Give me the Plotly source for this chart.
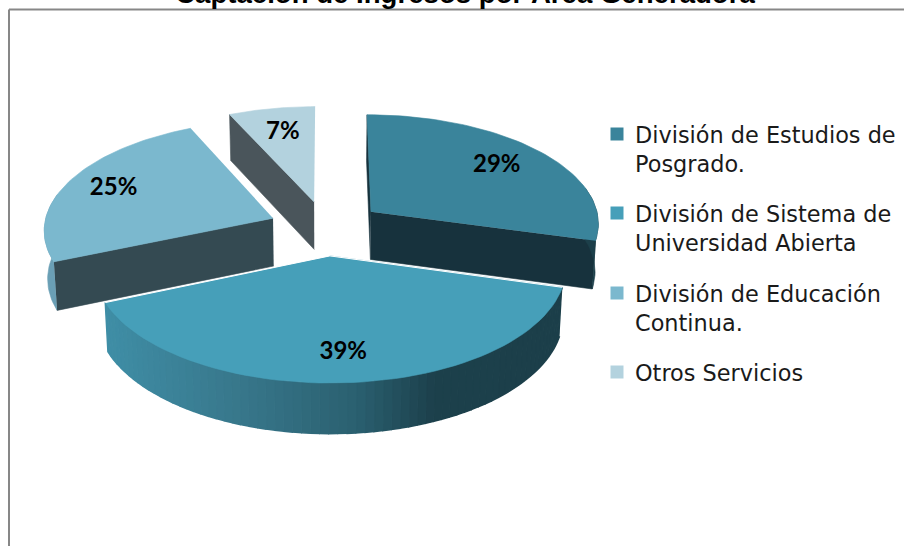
import numpy as np
import plotly.graph_objects as go

# data
labels = ["División de Estudios de<br>Posgrado.", "División de Sistema de<br>Universidad Abierta",
          "División de Educación<br>Continua.", "Otros Servicios"]
values = [29.3, 39.3, 24.6, 6.8]
colors = ["#3a849b", "#469fb9", "#7bb8ce", "#b3d2de"]
radial_colors = ["#17323d", "#1c3f4a", "#344a52", "#4a555b"]
rim_colors = ["#1c3f4a", None, "#6a9fb5", "#4a555b"]
title = "Captación de Ingresos por Área Generadora"

# gradient along the rim of the big slice, left to right
grad_pos = [0.0, 0.28, 0.55, 0.72, 1.0]
grad_col = ["#3f8ea6", "#38788c", "#2a6070", "#1c404b", "#1c3f4a"]

# view settings
CX, CY = 326, 228
D = 2500
R = 240
SX = 0.955
K = 0.455
EXPLODE = 60
DEPTH = 48
LABEL_R = [0.74, 0.78, 0.78, 0.72]

# legend layout
LEG_X = 617
LEG_TEXT_X = 634
LEG_Y = [134, 213, 293, 372]


def project(wx, wy, z=0.0):
    s = D / (D + wy)
    px = CX + wx * SX * s
    py = CY - K * D * wy / (D + wy) + z * DEPTH * (1 + (s - 1) * 0.4)
    px = CX + (px - CX) * (1 - 0.012 * z)
    return px, py


def rim(a0, a1, n=60):
    return np.radians(np.linspace(a0, a1, n))


def poly(x, y, color, lw=0.6):
    return go.Scatter(x=list(x), y=list(y), mode="lines", fill="toself", fillcolor=color,
                      line=dict(color=color, width=lw), hoverinfo="skip", showlegend=False)


def hex_mix(a, b, t):
    ca = [int(a[i:i + 2], 16) for i in (1, 3, 5)]
    cb = [int(b[i:i + 2], 16) for i in (1, 3, 5)]
    return "#%02x%02x%02x" % tuple(round(p + (q - p) * t) for p, q in zip(ca, cb))


def grad_color(t):
    for i in range(len(grad_pos) - 1):
        if t <= grad_pos[i + 1]:
            return hex_mix(grad_col[i], grad_col[i + 1], (t - grad_pos[i]) / (grad_pos[i + 1] - grad_pos[i]))
    return grad_col[-1]


angles = np.cumsum([0] + values) * 3.6
fig = go.Figure()

# which radial faces can be seen, per slice
visible_edges = {0: [0, 1], 1: [], 2: [0], 3: [0]}

# far slices first, the big front slice last
for i in [0, 3, 2, 1]:
    a0, a1 = angles[i], angles[i + 1]
    mid = np.radians((a0 + a1) / 2)
    ox, oy = EXPLODE * np.sin(mid), EXPLODE * np.cos(mid)
    th = rim(a0, a1)
    wx, wy = ox + R * np.sin(th), oy + R * np.cos(th)

    # radial side faces
    for e in visible_edges[i]:
        a = np.radians((a0, a1)[e])
        ex, ey = ox + R * np.sin(a), oy + R * np.cos(a)
        p = [project(ox, oy), project(ex, ey), project(ex, ey, 1), project(ox, oy, 1)]
        fig.add_trace(poly([q[0] for q in p], [q[1] for q in p], radial_colors[i]))

    # outer side of the slice
    front = np.cos(th) < 0.25
    if i == 1:
        n = 70
        th2 = rim(a0, a1, n + 1)
        fx, fy = ox + R * np.sin(th2), oy + R * np.cos(th2)
        top = [project(a, b) for a, b in zip(fx, fy)]
        bot = [project(a, b, 1) for a, b in zip(fx, fy)]
        xmin, xmax = min(q[0] for q in top), max(q[0] for q in top)
        for j in range(n):
            t = ((top[j][0] + top[j + 1][0]) / 2 - xmin) / (xmax - xmin)
            fig.add_trace(poly([top[j][0], top[j + 1][0], bot[j + 1][0], bot[j][0]],
                               [top[j][1], top[j + 1][1], bot[j + 1][1], bot[j][1]], grad_color(t), 1.5))
    elif front.any():
        wxf, wyf = wx[front], wy[front]
        top = project(wxf, wyf)
        bot = project(wxf, wyf, 1)
        fig.add_trace(poly(list(top[0]) + list(bot[0])[::-1], list(top[1]) + list(bot[1])[::-1], rim_colors[i]))

    # top face
    px, py = project(np.r_[ox, wx], np.r_[oy, wy])
    fig.add_trace(poly(px, py, colors[i]))
    if i == 1:
        fig.add_trace(go.Scatter(x=[px[1], px[0], px[-1]], y=[py[1], py[0], py[-1]], mode="lines",
                                 line=dict(color="#ffffff", width=1), hoverinfo="skip", showlegend=False))

# percent labels
mids = np.radians((angles[:-1] + angles[1:]) / 2)
lr = EXPLODE + np.array(LABEL_R) * R
lx, ly = project(lr * np.sin(mids), lr * np.cos(mids))
fig.add_trace(go.Scatter(x=lx, y=ly, mode="text", text=[f"{v:.0f}%" for v in values], hoverinfo="skip",
                         showlegend=False,
                         textfont=dict(family="Lato", size=24, color="#000000", weight="bold")))

# legend swatches and text
fig.add_trace(go.Scatter(x=[LEG_X] * len(values), y=LEG_Y, mode="markers", hoverinfo="skip", showlegend=False,
                         marker=dict(symbol="square", size=13, color=colors)))
for k in range(len(values)):
    fig.add_annotation(x=LEG_TEXT_X, y=LEG_Y[k] - 1, text=labels[k], showarrow=False, xanchor="left", yanchor="top",
                       yshift=12, align="left", borderpad=0,
                       font=dict(family="DejaVu Sans", size=22.4, color="#1a1a1a"))

fig.update_layout(
    width=904, height=546,
    margin=dict(l=0, r=0, t=0, b=0),
    paper_bgcolor="white", plot_bgcolor="white",
    showlegend=False,
    title=dict(text=title, x=465 / 904, xanchor="center", y=1 - 3 / 546, yanchor="bottom",
               font=dict(family="Liberation Sans", size=27.6, color="#000000", weight="bold")),
    xaxis=dict(range=[0, 904], visible=False, fixedrange=True),
    yaxis=dict(range=[546, 0], visible=False, fixedrange=True),
    shapes=[
        dict(type="line", x0=9, x1=9, y0=9.5, y1=546, line=dict(color="#878787", width=2)),
        dict(type="line", x0=9, x1=904, y0=9.5, y1=9.5, line=dict(color="#878787", width=2)),
    ],
)

fig.write_html("out.html", config=dict(displayModeBar=False),
               post_script="document.body.style.margin='0';document.body.style.overflow='hidden';")
